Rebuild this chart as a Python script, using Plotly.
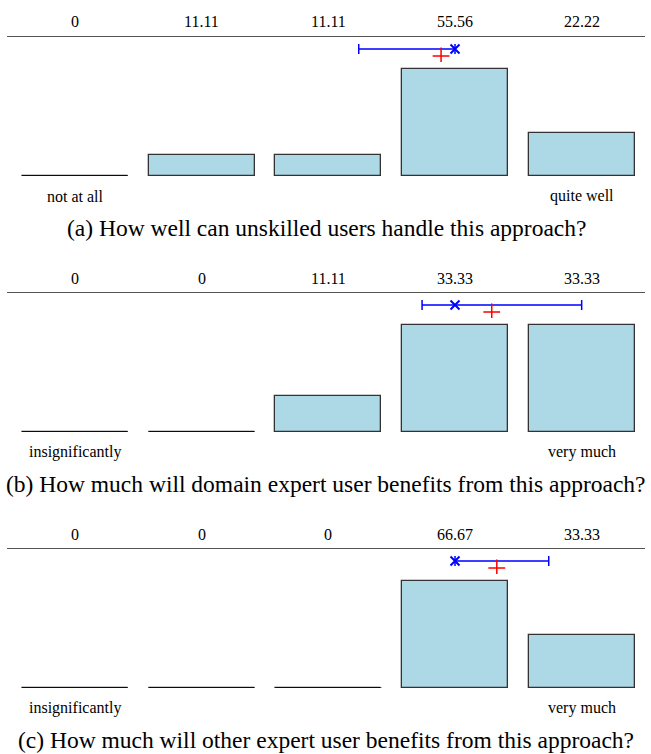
import plotly.graph_objects as go

W, H = 651, 754

categories = [1, 2, 3, 4, 5]

pct_a = [0, 11.11, 11.11, 55.56, 22.22]
pct_b = [0, 0, 11.11, 33.33, 33.33]
pct_c = [0, 0, 0, 66.67, 33.33]

means = [3.89, 4.29, 4.33]
medians = [4.0, 4.0, 4.0]
err_low = [3.24, 3.74, 4.0]
err_high = [4.0, 5.0, 4.74]

left_labels = ["not at all", "insignificantly", "insignificantly"]
right_labels = ["quite well", "very much", "very much"]
captions = [
    "(a) How well can unskilled users handle this approach?",
    "(b) How much will domain expert user benefits from this approach?",
    "(c) How much will other expert user benefits from this approach?",
]

panels = [pct_a, pct_b, pct_c]

FONT = "Liberation Serif, Times New Roman, serif"
BAR_W = 0.837


def py(px):
    return 1 - px / H


def fmt(v):
    return "0" if v == 0 else f"{v:.2f}"


fig = go.Figure()
annotations = []
layout_axes = {}

for i, pcts in enumerate(panels):
    o = 256 * i
    k = i + 1
    xname = "x" if k == 1 else f"x{k}"
    yname = "y" if k == 1 else f"y{k}"
    sname = f"y{k + 3}"

    # bars
    fig.add_trace(go.Bar(
        x=categories, y=pcts, width=BAR_W,
        marker=dict(color="#add8e6", line=dict(color="#333333", width=1.3)),
        xaxis=xname, yaxis=yname, showlegend=False, hoverinfo="skip",
    ))
    # zero-valued bars drawn as flat segments
    for c, v in zip(categories, pcts):
        if v == 0:
            fig.add_trace(go.Scatter(
                x=[c - BAR_W / 2, c + BAR_W / 2], y=[v, v], mode="lines",
                line=dict(color="black", width=1.5),
                xaxis=xname, yaxis=yname, showlegend=False, hoverinfo="skip",
            ))

    # summary row: median with range, mean
    med = medians[i]
    fig.add_trace(go.Scatter(
        x=[med], y=[0.65], mode="markers",
        marker=dict(symbol="x-thin", size=9, line=dict(color="blue", width=2)),
        error_x=dict(type="data", symmetric=False,
                     array=[err_high[i] - med], arrayminus=[med - err_low[i]],
                     color="blue", thickness=1.5, width=5),
        xaxis=xname, yaxis=sname, showlegend=False, hoverinfo="skip",
    ))
    fig.add_trace(go.Scatter(
        x=[means[i]], y=[0.3], mode="markers",
        marker=dict(symbol="cross-thin", size=12, line=dict(color="red", width=1.5)),
        xaxis=xname, yaxis=sname, showlegend=False, hoverinfo="skip",
    ))

    xkey = "xaxis" if k == 1 else f"xaxis{k}"
    ykey = "yaxis" if k == 1 else f"yaxis{k}"
    skey = f"yaxis{k + 3}"
    layout_axes[xkey] = dict(
        domain=[7 / W, 645 / W], range=[0.463, 5.5], anchor=yname, side="top",
        showline=True, linecolor="#555555", linewidth=1.3,
        showticklabels=False, showgrid=False, zeroline=False, ticks="",
    )
    layout_axes[ykey] = dict(
        domain=[py(176 + o), py(37 + o)], range=[0, max(pcts) * 139 / 107],
        anchor=xname, visible=False,
    )
    layout_axes[skey] = dict(
        domain=[py(62 + o), py(42 + o)], range=[0, 1],
        anchor=xname, visible=False,
    )

    txt = dict(showarrow=False, xanchor="center", yanchor="middle", yref="paper")
    for c, v in zip(categories, pcts):
        annotations.append(dict(
            x=c, xref=xname, y=py(22 + o), text=fmt(v),
            font=dict(family=FONT, size=16, color="black"), **txt,
        ))
    annotations.append(dict(
        x=categories[0], xref=xname, y=py(196 + o), text=left_labels[i],
        font=dict(family=FONT, size=16, color="black"), **txt,
    ))
    annotations.append(dict(
        x=categories[-1], xref=xname, y=py(196 + o), text=right_labels[i],
        font=dict(family=FONT, size=16, color="black"), **txt,
    ))
    annotations.append(dict(
        x=326 / W, xref="paper", y=py(228 + o), text=captions[i],
        font=dict(family=FONT, size=23.5, color="black"), **txt,
    ))

fig.update_layout(
    width=W, height=H, margin=dict(l=0, r=0, t=0, b=0),
    paper_bgcolor="white", plot_bgcolor="white",
    annotations=annotations, bargap=0,
    **layout_axes,
)

fig.write_html(
    "out.html",
    config={"displayModeBar": False},
    post_script="document.body.style.margin='0';document.body.style.overflow='hidden';",
)
